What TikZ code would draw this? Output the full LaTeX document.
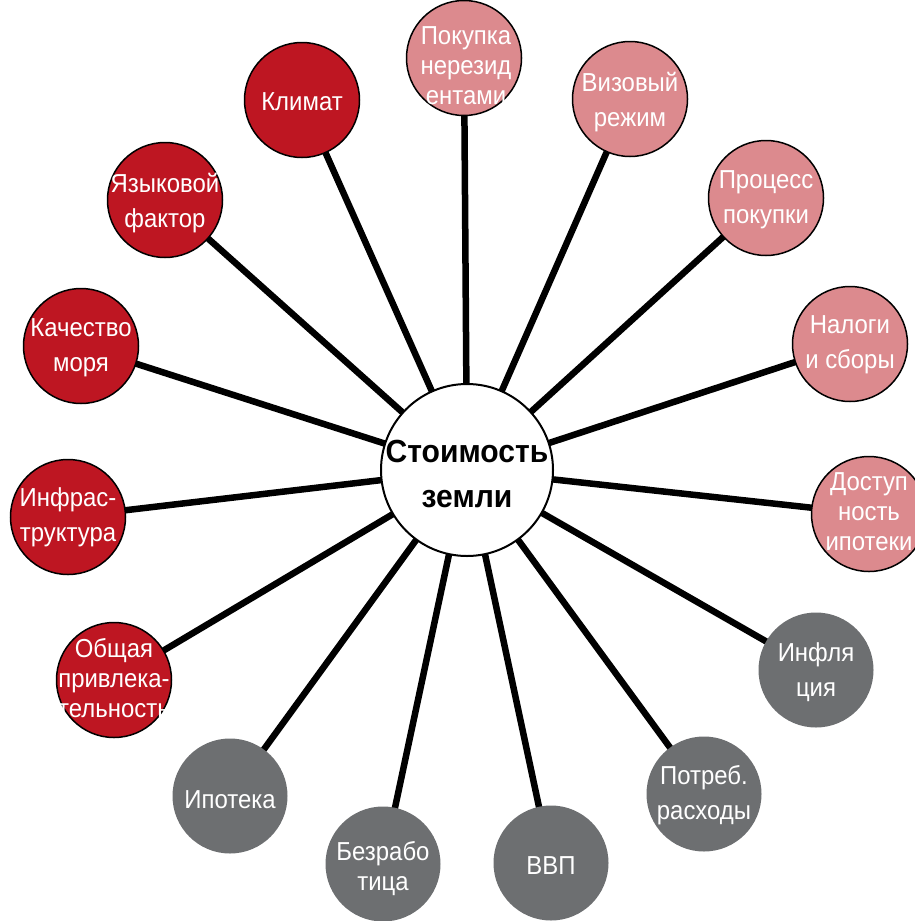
\documentclass[tikz,border=0pt]{standalone}
\usepackage{fontspec}
\setmainfont{Liberation Sans}
\newfontfamily\narrowsans[FakeStretch=0.92]{Liberation Sans}
\newfontfamily\narrowbold[FakeStretch=0.94]{Liberation Sans Bold}
\usetikzlibrary{backgrounds}
\definecolor{cred}{RGB}{190,22,34}
\definecolor{cpink}{RGB}{220,138,142}
\definecolor{cgray}{RGB}{109,111,113}
\tikzset{
  hub/.style={circle, draw=black, line width=2pt, fill=white, minimum size=172pt, inner sep=0pt},
  redc/.style={circle, draw=black, line width=1.5pt, fill=cred, minimum size=115pt, inner sep=0pt},
  pinkc/.style={circle, draw=black, line width=1.5pt, fill=cpink, minimum size=115pt, inner sep=0pt},
  grayc/.style={circle, fill=cgray, minimum size=115pt, inner sep=0pt},
  lbl/.style={text=white, font=\narrowsans\fontsize{26}{35}\selectfont, align=center, inner sep=0pt},
  lblt/.style={text=white, font=\narrowsans\fontsize{26}{30}\selectfont, align=center, inner sep=0pt},
  hubtxt/.style={text=black, font=\narrowbold\fontsize{32}{45}\selectfont, align=center, inner sep=0pt},
  spoke/.style={line width=6.5pt, black},
}
\begin{document}
\begin{tikzpicture}[x=1pt,y=-1pt]
\useasboundingbox (0,0) rectangle (915,921);
% hub
\node[hub] (hub) at (467,470) {};
\node[hubtxt] (hubt) at (467,474) {Стоимость\\земли};
% red
\node[redc] (klim) at (302,100) {};
\node[lbl] (klimt) at (302,102) {Климат};
\node[redc] (yaz) at (165,200) {};
\node[lbl] (yazt) at (165,203) {Языковой\\фактор};
\node[redc] (kach) at (81,346) {};
\node[lbl] (kacht) at (81,348) {Качество\\моря};
\node[redc] (infr) at (68,517) {};
\node[lbl] (infrt) at (68,517) {Инфрас-\\труктура};
\node[redc] (obsh) at (114,680) {};
\node[lblt] (obsht) at (114,678) {Общая\\привлека-\\тельность};
% pink
\node[pinkc] (pok) at (464,58) {};
\node[lblt] (pokt) at (466,66) {Покупка\\нерезид\\ентами};
\node[pinkc] (viz) at (630,99) {};
\node[lbl] (vizt) at (630,102) {Визовый\\режим};
\node[pinkc] (proc) at (766,198) {};
\node[lbl] (proct) at (766,200) {Процесс\\покупки};
\node[pinkc] (nal) at (850,344) {};
\node[lbl] (nalt) at (850,345) {Налоги\\и сборы};
\node[pinkc] (dost) at (869,514) {};
\node[lblt] (dostt) at (869,512) {Доступ\\ность\\ипотеки};
% gray
\node[grayc] (infl) at (816,670) {};
\node[lbl] (inflt) at (816,672) {Инфля\\ция};
\node[grayc] (potr) at (704,794) {};
\node[lbl] (potrt) at (704,795) {Потреб.\\расходы};
\node[grayc] (vvp) at (551,863) {};
\node[lbl] (vvpt) at (551,866) {ВВП};
\node[grayc] (bezr) at (383,864) {};
\node[lblt] (bezrt) at (383,869) {Безрабо\\тица};
\node[grayc] (ipot) at (230,796) {};
\node[lbl] (ipott) at (230,800) {Ипотека};
\begin{pgfonlayer}{background}
\foreach \n in {klim,yaz,kach,infr,obsh,pok,viz,proc,nal,dost,infl,potr,vvp,bezr,ipot}
  \draw[spoke] (hub.center) -- (\n.center);
\end{pgfonlayer}
\end{tikzpicture}
\end{document}
